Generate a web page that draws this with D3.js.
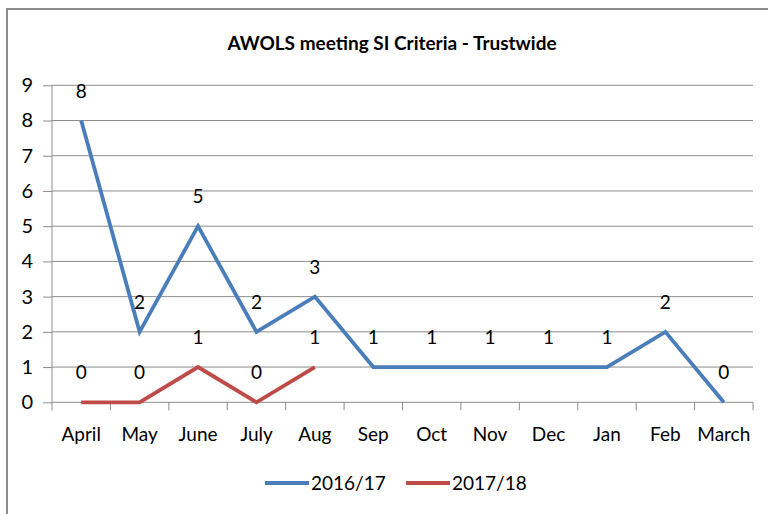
<!DOCTYPE html>
<html>
<head>
<meta charset="utf-8">
<script src="https://cdn.jsdelivr.net/npm/d3@7"></script>
<style>
  body { margin: 0; background: #fff; }
  svg { display: block; font-family: Lato, "Open Sans", sans-serif; }
</style>
</head>
<body>
<svg id="chart" width="768" height="514"></svg>
<script>
const months = ["April", "May", "June", "July", "Aug", "Sep", "Oct", "Nov", "Dec", "Jan", "Feb", "March"];
const series1617 = [8, 2, 5, 2, 3, 1, 1, 1, 1, 1, 2, 0];
const series1718 = [0, 0, 1, 0, 1];
const yTicks = [0, 1, 2, 3, 4, 5, 6, 7, 8, 9];

const seriesList = [
  { name: "2016/17", values: series1617, color: "#4a7ebb" },
  { name: "2017/18", values: series1718, color: "#be4b48" }
];

const svg = d3.select("#chart");

// frame
svg.append("rect")
  .attr("x", 7).attr("y", 9)
  .attr("width", 800).attr("height", 600)
  .attr("fill", "none")
  .attr("stroke", "#8c8c8c")
  .attr("stroke-width", 2);

svg.append("text")
  .attr("x", 392).attr("y", 50)
  .attr("text-anchor", "middle")
  .attr("font-size", 19)
  .attr("font-weight", "bold")
  .text("AWOLS meeting SI Criteria - Trustwide");

const plotLeft = 52, plotRight = 753, plotTop = 85.3, plotBottom = 402.3;

const x = d3.scaleBand().domain(months).range([plotLeft, plotRight]);
const y = d3.scaleLinear().domain([0, 9]).range([plotBottom, plotTop]);

// gridlines
svg.append("g")
  .selectAll("line")
  .data(yTicks.filter(d => d > 0))
  .join("line")
  .attr("x1", plotLeft).attr("x2", plotRight)
  .attr("y1", d => y(d)).attr("y2", d => y(d))
  .attr("stroke", "#8c8c8c")
  .attr("stroke-width", 1);

// y axis
const yAxis = svg.append("g")
  .attr("transform", `translate(${plotLeft},0)`)
  .call(d3.axisLeft(y).tickValues(yTicks).tickSize(9).tickPadding(10));
yAxis.selectAll("text").attr("font-size", 20).attr("fill", "#000").attr("font-family", "Lato, sans-serif");
yAxis.selectAll("line, path").attr("stroke", "#8c8c8c");
yAxis.select("path").attr("d", `M0,${plotTop}V${plotBottom}`);

// x axis with ticks at band boundaries
const xAxis = svg.append("g")
  .attr("transform", `translate(0,${plotBottom})`);
xAxis.append("line")
  .attr("x1", plotLeft).attr("x2", plotRight)
  .attr("stroke", "#8c8c8c");
xAxis.selectAll(".tk")
  .data(d3.range(months.length + 1))
  .join("line")
  .attr("class", "tk")
  .attr("x1", i => plotLeft + i * x.bandwidth())
  .attr("x2", i => plotLeft + i * x.bandwidth())
  .attr("y1", 0).attr("y2", 8)
  .attr("stroke", "#8c8c8c");
xAxis.selectAll(".lbl")
  .data(months)
  .join("text")
  .attr("class", "lbl")
  .attr("x", d => x(d) + x.bandwidth() / 2)
  .attr("y", 39)
  .attr("text-anchor", "middle")
  .attr("font-size", 19)
  .text(d => d);

const line = d3.line()
  .x((d, i) => x(months[i]) + x.bandwidth() / 2)
  .y(d => y(d));

seriesList.forEach(s => {
  svg.append("path")
    .datum(s.values)
    .attr("d", line)
    .attr("fill", "none")
    .attr("stroke", s.color)
    .attr("stroke-width", 3.8)
    .attr("stroke-linejoin", "miter");

  svg.append("g")
    .selectAll("text")
    .data(s.values)
    .join("text")
    .attr("x", (d, i) => x(months[i]) + x.bandwidth() / 2)
    .attr("y", d => y(d) - 23)
    .attr("text-anchor", "middle")
    .attr("font-size", 19)
    .text(d => d);
});

// legend
const legend = svg.append("g");
const legendX = [265, 406];
seriesList.forEach((s, i) => {
  legend.append("line")
    .attr("x1", legendX[i]).attr("x2", legendX[i] + 44)
    .attr("y1", 483).attr("y2", 483)
    .attr("stroke", s.color)
    .attr("stroke-width", 3.8);
  legend.append("text")
    .attr("x", legendX[i] + 46)
    .attr("y", 490)
    .attr("font-size", 19)
    .text(s.name);
});
</script>
</body>
</html>
